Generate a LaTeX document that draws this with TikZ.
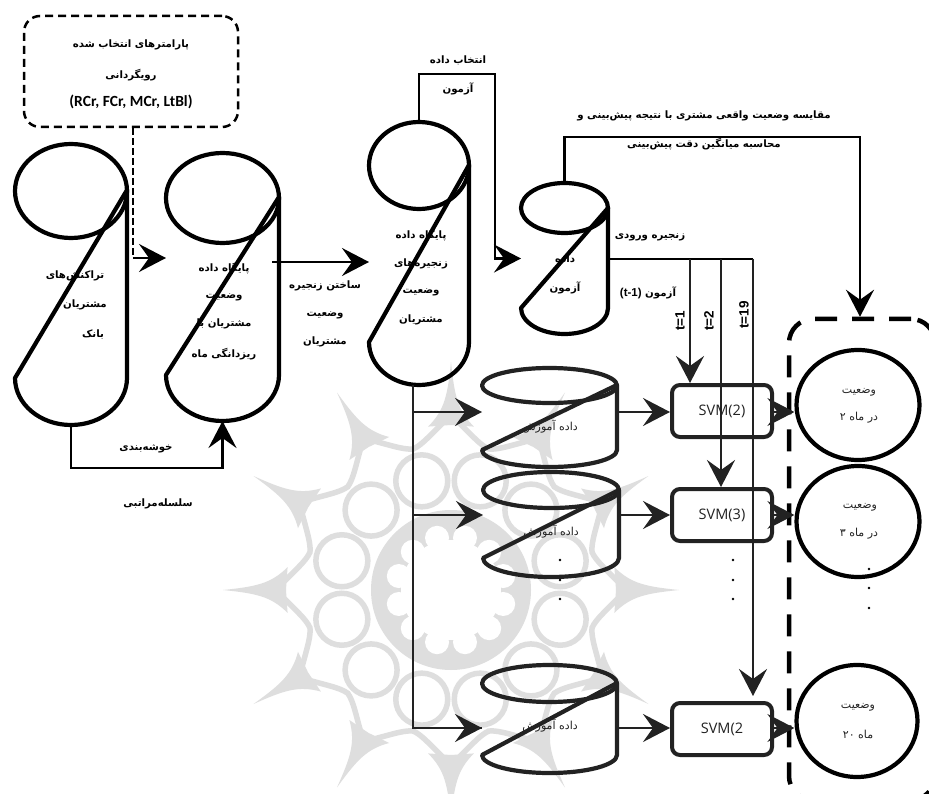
\documentclass[tikz,border=0pt]{standalone}
\usepackage{fontspec}
\usetikzlibrary{arrows.meta,calc,shapes.geometric}
\TeXXeTstate=1
\newfontfamily\arabicfont[Script=Arabic]{DejaVu Sans}
\newfontfamily\latfont{Carlito}
\newfontfamily\arialfont{Liberation Sans}
\newfontfamily\svmfont{Open Sans}
\newcommand\fa[1]{\beginR #1\endR}
\definecolor{inkd}{HTML}{222222}
\definecolor{wm}{HTML}{DEDEDE}
\tikzset{
  lab/.style={inner sep=0pt,text=black,font=\arabicfont\bfseries\fontsize{10.2}{12}\selectfont},
  thin lab/.style={inner sep=0pt,text=inkd,font=\arabicfont\fontsize{11}{13}\selectfont},
  tee/.style={inner sep=0pt,rotate=90,font=\arialfont\bfseries\fontsize{13.5}{15}\selectfont},
  cylbox/.style={inner sep=0pt,outer sep=0pt,draw=none},
  cylline/.style={line width=4.2pt,line join=round},
  link/.style={line width=2.2pt,line join=miter},
  bigtip/.style={-{Stealth[length=27pt,width=28pt,inset=10pt]}},
  svmbox/.style={draw=inkd,line width=4pt,rounded corners=8pt,inner sep=0pt,minimum width=100pt,minimum height=52pt,
    text=inkd,font=\svmfont\fontsize{14.5}{16}\selectfont},
  state/.style={draw=black,line width=4.2pt,ellipse,inner sep=0pt},
  wmline/.style={draw=wm,line width=5.5pt},
}
\newcommand\cyl[9][black]{%
  \pgfmathsetmacro\cxx{(#3+#4)/2}%
  \pgfmathsetmacro\crx{(#4-#3)/2}%
  \pgfmathsetmacro\cey{(#5+#6)/2}%
  \pgfmathsetmacro\cry{(#6-#5)/2}%
  \pgfmathsetmacro\cby{#9-#8}%
  \pgfmathsetmacro\cmy{(#5+#9)/2}%
  \pgfmathsetmacro\cw{#4-#3}%
  \pgfmathsetmacro\ch{#9-#5}%
  \node[cylbox,minimum width=\cw pt,minimum height=\ch pt] (#2) at (\cxx,\cmy) {};
  \draw[cylline,draw=#1] (\cxx,\cey) ellipse[x radius=\crx pt,y radius=\cry pt];
  \draw[cylline,draw=#1] (#4,#7) -- (#3,#8) arc[start angle=180,end angle=360,x radius=\crx pt,y radius=\cby pt] -- cycle;
}
\begin{document}
\begin{tikzpicture}[x=1pt,y=-1pt]
\clip (0,0) rectangle (929,794);
\fill[white] (0,0) rectangle (929,794);
% watermark
\begin{scope}[shift={(451,590)}]
  \fill[wm] (0,0) circle[radius=80pt];
  \foreach \a in {0,30,...,330}{
    \fill[wm] (\a:228pt) .. controls (\a+1:195pt) and (\a+2:180pt) .. (\a+8:165pt) -- (\a:165pt) -- (\a-8:165pt) .. controls (\a-2:180pt) and (\a-1:195pt) .. cycle;
    \draw[wmline] (\a:175pt) .. controls (\a+7:158pt) and (\a+11:148pt) .. (\a+15:146pt) .. controls (\a+19:148pt) and (\a+23:158pt) .. (\a+30:175pt);
    \draw[wmline,fill=white] (\a+15:113pt) circle[radius=26pt];
  }
  \fill[white] (0,0) circle[radius=50pt];
  \foreach \a in {0,30,...,330}{\fill[white] (\a+15:54pt) circle[radius=12pt];}
\end{scope}
% text under shapes
\node[lab] (ta1) at (75,276) {\fa{تراکنش^^^^200cهای}};
\node[lab] (ta2) at (85,305) {\fa{مشتریان}};
\node[lab] (ta3) at (93,335) {\fa{بانک}};
\node[lab] (tb1) at (224,268) {\fa{پایگاه داده}};
\node[lab] (tb2) at (224,297) {\fa{وضعیت}};
\node[lab] (tb3) at (224,324) {\fa{مشتریان با}};
\node[lab] (tb4) at (224,354) {\fa{ریزدانگی ماه}};
\node[lab] (tc1) at (421,235) {\fa{پایگاه داده}};
\node[lab] (tc2) at (421,264) {\fa{زنجیره^^^^200cهای}};
\node[lab] (tc3) at (421,292) {\fa{وضعیت}};
\node[lab] (tc4) at (421,320) {\fa{مشتریان}};
\node[lab] (td1) at (565,259) {\fa{داده}};
\node[lab] (td2) at (565,288) {\fa{آزمون}};
\node[thin lab] (tr1t) at (550,427) {\fa{داده آموزش}};
\node[thin lab] (tr2t) at (551,532) {\fa{داده آموزش}};
\node[thin lab] (tr3t) at (550,726) {\fa{داده آموزش}};
% cylinders
\cyl{c1}{15}{127}{144}{238}{190}{378}{425}
\cyl{c2}{166}{279}{153}{243}{197}{375}{421}
\cyl{c3}{369}{469}{122}{209}{165}{342}{385}
\cyl{c4}{521}{608}{183}{233}{208}{308}{334}
\cyl[inkd]{tr1}{482}{617}{368}{403}{385}{450}{467}
\cyl[inkd]{tr2}{483}{619}{472}{508}{490}{558}{577}
\cyl[inkd]{tr3}{482}{617}{665}{702}{683}{755}{773}
% parameter box
\node[draw=black,line width=2.5pt,dash pattern=on 8pt off 5pt,rounded corners=16pt,minimum width=214pt,minimum height=111pt,inner sep=0pt] (param) at (131,71.5) {};
\node[lab] (p1) at (131,45) {\fa{پارامترهای انتخاب شده}};
\node[lab] (p2) at (131,75) {\fa{رویگردانی}};
\node[inner sep=0pt,font=\latfont\bfseries\fontsize{15.5}{17}\selectfont] (p3) at (131,102) {(RCr, FCr, MCr, LtBl)};
% svm boxes
\node[svmbox] (s1) at (722,411) {SVM(2)};
\node[svmbox] (s2) at (722,515) {SVM(3)};
\node[svmbox] (s3) at (722,729) {SVM(2};
% state circles
\node[state,minimum width=123pt,minimum height=110pt] (o1) at (858,405) {};
\node[state,minimum width=123pt,minimum height=111pt] (o2) at (858,521.5) {};
\node[state,minimum width=121pt,minimum height=112pt] (o3) at (857,721) {};
\node[thin lab] (o1a) at (859,392) {\fa{وضعیت}};
\node[thin lab] (o1b) at (859,418) {\fa{در ماه ۲}};
\node[thin lab] (o2a) at (860,507) {\fa{وضعیت}};
\node[thin lab] (o2b) at (859,534) {\fa{در ماه ۳}};
\node[thin lab] (o3a) at (858,707) {\fa{وضعیت}};
\node[thin lab] (o3b) at (858,734) {\fa{ماه ۲۰}};
% dashed group
\node[draw=black,line width=4.5pt,dash pattern=on 22pt off 15pt,rounded corners=24pt,minimum width=146pt,minimum height=481pt,inner sep=0pt] (group) at (862,559.5) {};
% routing points
\coordinate (h1) at (133,258);
\coordinate (h2) at (100,468);
\coordinate (h3) at (495,74);
\coordinate (h4) at (860,137);
\coordinate (j1) at (690,259);
\coordinate (j2) at (721,259);
\coordinate (j3) at (753,259);
\coordinate (e3) at (753,696);
\coordinate (b0) at (413,385);
\coordinate (r1) at (0,412);
\coordinate (r2) at (0,515);
\coordinate (r3) at (0,728);
% connectors
\draw[black,line width=2.5pt,dash pattern=on 7pt off 3pt] (h1 |- param.south) -- (h1);
\draw[link,bigtip] (h1) -- (c2.west |- h1);
\draw[link,bigtip] (c1.south) -- (c1.south |- h2) -- (c2.south |- h2) -- (c2.south);
\draw[link,bigtip] (272,262) coordinate (a0) -- (c3.west |- a0);
\draw[link,bigtip] (c3.north) |- (h3) |- (c4.west);
\draw[link,bigtip] (c4.north) |- (h4) -- (h4 |- group.north);
\draw[link] (c4.east |- j1) -- (j3);
\draw[link,inkd,bigtip] (j1) -- (j1 |- s1.north);
\draw[link,inkd,bigtip] (j2) -- (j2 |- s2.north);
\draw[link,inkd,bigtip] (j3) -- (e3);
\draw[link,inkd] (b0) |- (r3 -| tr3.west);
\draw[link,inkd,bigtip] (b0 |- r1) -- (tr1.west |- r1);
\draw[link,inkd,bigtip] (b0 |- r2) -- (tr2.west |- r2);
\draw[link,inkd,bigtip] (b0 |- r3) -- (tr3.west |- r3);
\draw[link,inkd,bigtip] (tr1.east |- r1) -- (s1.west |- r1);
\draw[link,inkd,bigtip] (tr2.east |- r2) -- (s2.west |- r2);
\draw[link,inkd,bigtip] (tr3.east |- r3) -- (s3.west |- r3);
\draw[link,inkd,bigtip] (s1.east |- r1) -- (o1.west |- r1);
\draw[link,inkd,bigtip] (s2.east |- r2) -- (o2.west |- r2);
\draw[link,inkd,bigtip] (s3.east |- r3) -- (o3.west |- r3);
% free labels
\node[lab] (l1) at (325,286) {\fa{ساختن زنجیره}};
\node[lab] (l2) at (325,315) {\fa{وضعیت}};
\node[lab] (l3) at (325,342) {\fa{مشتریان}};
\node[lab] (l4) at (146,449) {\fa{خوشه^^^^200cبندی}};
\node[lab] (l5) at (158,504) {\fa{سلسله^^^^200cمراتبی}};
\node[lab] (l6) at (458,60) {\fa{انتخاب داده}};
\node[lab] (l7) at (458,89) {\fa{آزمون}};
\node[lab] (l8) at (704,116) {\fa{مقایسه وضعیت واقعی مشتری با نتیجه پیش^^^^200cبینی و}};
\node[lab] (l9) at (704,144) {\fa{محاسبه میانگین دقت پیش^^^^200cبینی}};
\node[lab] (l10) at (650,237) {\fa{زنجیره ورودی}};
\node[lab] (l11) at (648,293) {\fa{آزمون \beginL{\arialfont\bfseries\fontsize{11.5}{13}\selectfont(t-1)}\endL}};
\node[tee] (t1) at (680,321) {t=1};
\node[tee] (t2) at (709,321) {t=2};
\node[tee] (t3) at (744,315) {t=19};
% ellipsis dots
\foreach \px/\py in {560/560,560/580,560/599,733/560,733/580,733/599,869/569,869/588,869/608}
  \fill[black] (\px,\py) circle[radius=1.3pt];
\end{tikzpicture}
\end{document}
